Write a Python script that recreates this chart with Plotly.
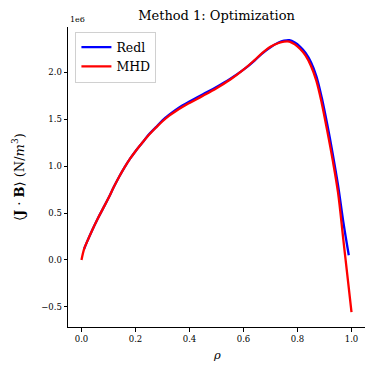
import plotly.graph_objects as go

# Data (values in units of 1e6)
rho_mhd = [0.00, 0.01, 0.02, 0.04, 0.06, 0.08, 0.10, 0.12, 0.14, 0.16, 0.18, 0.20,
           0.225, 0.25, 0.275, 0.30, 0.325, 0.35, 0.375, 0.40, 0.45, 0.50, 0.55,
           0.60, 0.64, 0.67, 0.70, 0.73, 0.75, 0.77, 0.79, 0.81, 0.83, 0.85,
           0.87, 0.89, 0.91, 0.93, 0.95, 0.97, 0.99, 1.00]
jb_mhd = [0.00, 0.12, 0.19, 0.32, 0.44, 0.55, 0.66, 0.78, 0.89, 0.99, 1.08, 1.16,
          1.25, 1.335, 1.41, 1.48, 1.54, 1.59, 1.635, 1.675, 1.752, 1.832, 1.922,
          2.03, 2.13, 2.21, 2.275, 2.315, 2.33, 2.33, 2.30, 2.25, 2.18, 2.07,
          1.91, 1.67, 1.38, 1.07, 0.72, 0.21, -0.30, -0.556]

rho_redl = [0.01, 0.02, 0.04, 0.06, 0.08, 0.10, 0.12, 0.14, 0.16, 0.18, 0.20,
            0.225, 0.25, 0.275, 0.30, 0.325, 0.35, 0.375, 0.40, 0.45, 0.50, 0.55,
            0.60, 0.64, 0.67, 0.70, 0.73, 0.75, 0.77, 0.79, 0.81, 0.83, 0.85,
            0.87, 0.89, 0.91, 0.93, 0.95, 0.97, 0.99]
jb_redl = [0.12, 0.19, 0.32, 0.44, 0.55, 0.66, 0.78, 0.89, 0.99, 1.08, 1.16,
           1.25, 1.34, 1.415, 1.49, 1.55, 1.603, 1.65, 1.69, 1.768, 1.845, 1.93,
           2.03, 2.125, 2.205, 2.27, 2.32, 2.34, 2.345, 2.32, 2.275, 2.21, 2.11,
           1.96, 1.73, 1.45, 1.14, 0.80, 0.40, 0.05]

scale = 1e6
xticks = [0.0, 0.2, 0.4, 0.6, 0.8, 1.0]
xticktext = ["0.0", "0.2", "0.4", "0.6", "0.8", "1.0"]
yticks = [-0.5, 0.0, 0.5, 1.0, 1.5, 2.0]
yticktext = ["\u22120.5", "0.0", "0.5", "1.0", "1.5", "2.0"]

FONT = "DejaVu Serif"

fig = go.Figure()
fig.add_trace(go.Scatter(x=rho_redl, y=[v * scale for v in jb_redl], mode="lines",
                         name="Redl", line=dict(color="#0000ff", width=2.3, shape="spline", smoothing=1.0)))
fig.add_trace(go.Scatter(x=rho_mhd, y=[v * scale for v in jb_mhd], mode="lines",
                         name="MHD", line=dict(color="#ff0000", width=2.3, shape="spline", smoothing=1.0)))

fig.update_layout(
    width=374, height=374,
    margin=dict(l=68, r=9, t=27, b=47),
    paper_bgcolor="white", plot_bgcolor="white",
    font=dict(family=FONT, color="black", size=8),
    showlegend=True,
    legend=dict(x=0.025, y=0.985, xanchor="left", yanchor="top",
                bgcolor="white", bordercolor="#d0d0d0", borderwidth=1,
                font=dict(family=FONT, size=12.5), itemwidth=30,
                tracegroupgap=0),
    title=dict(text="Method 1: Optimization", x=0.579, xanchor="center",
               y=0.96, yanchor="middle", font=dict(family=FONT, size=13)),
)

fig.update_xaxes(range=[-0.05, 1.05], tickvals=xticks, ticktext=xticktext,
                 showgrid=False, zeroline=False, showline=True, linecolor="black",
                 linewidth=1, ticks="outside", ticklen=3.5, tickcolor="black",
                 tickfont=dict(family=FONT, size=8.5))
fig.update_yaxes(range=[-0.7155e6, 2.4855e6], tickvals=[v * scale for v in yticks],
                 ticktext=yticktext,
                 showgrid=False, zeroline=False, showline=True, linecolor="black",
                 linewidth=1, ticks="outside", ticklen=3.5, tickcolor="black",
                 tickfont=dict(family=FONT, size=8.5))

fig.add_annotation(text="1e6", xref="paper", yref="paper", x=0.0, y=1.005,
                   xanchor="left", yanchor="bottom", showarrow=False,
                   font=dict(family=FONT, size=8))
fig.add_annotation(text="<i>\u03c1</i>", xref="paper", yref="paper", x=0.5, y=-0.093,
                   xanchor="center", yanchor="middle", showarrow=False,
                   font=dict(family=FONT, size=11.5))
fig.add_annotation(text="\u27e8<b>J</b> \u00b7 <b>B</b>\u27e9 (N/<i>m</i><sup>3</sup>)",
                   xref="paper", yref="paper", x=-0.168, y=0.5,
                   xanchor="center", yanchor="middle", textangle=-90, showarrow=False,
                   font=dict(family=FONT, size=13))

fig.write_html("out.html", config={"displayModeBar": False},
               post_script="document.body.style.margin='0';document.body.style.padding='0';")
